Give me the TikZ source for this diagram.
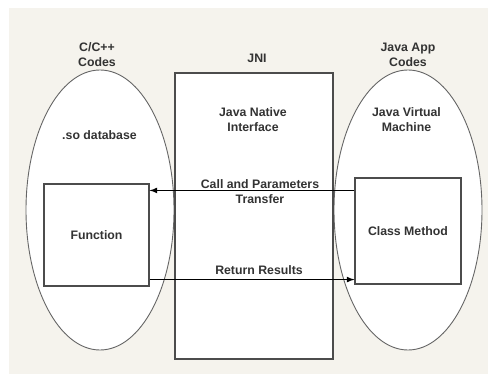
\documentclass[tikz,border=0pt]{standalone}
\usepackage{fontspec}
\setmainfont{Liberation Sans}
\usetikzlibrary{arrows,shapes.geometric,calc}

\definecolor{paper}{RGB}{245,243,237}
\definecolor{ink}{RGB}{51,51,51}

\tikzset{
  label/.style={font=\fontsize{12.3}{15}\selectfont\bfseries, text=ink, align=center, inner sep=0pt},
  oval/.style={ellipse, draw=black!60, fill=white, line width=0.9pt,
    minimum width=148pt, minimum height=280pt, inner sep=0pt},
  block/.style={rectangle, draw=black!70, fill=white, line width=1.1pt, inner sep=0pt},
  flow/.style={-latex, line width=1.6pt, black}
}

\begin{document}
\begin{tikzpicture}[x=1pt,y=-1pt]
  % Page and backdrop
  \useasboundingbox (0,0) rectangle (488,374);
  \fill[paper] (9,8) rectangle (488,374);

  % Two sides and the bridge between them
  \node[oval] (native) at (100,210) {};
  \node[oval] (java) at (408,210) {};
  \node[block, minimum width=158pt, minimum height=286pt] (jni) at (254,216) {};

  % Boxes inside the ovals
  \node[block, label, minimum width=105pt, minimum height=102pt] (func) at (96.5,235) {Function};
  \node[block, label, minimum width=106pt, minimum height=106pt] (method) at (408,231) {Class Method};

  % Titles
  \node[label] (cpp) at (97,54.5) {C/C++\\Codes};
  \node[label] (jnititle) at (257,58) {JNI};
  \node[label] (javaapp) at (408,54.5) {Java App\\Codes};
  \node[label] (sodb) at (99.5,135) {.so database};
  \node[label] (jnidesc) at (253,119.5) {Java Native\\Interface};
  \node[label] (jvm) at (406.5,119.5) {Java Virtual\\Machine};

  % Calls across the interface
  \node[label] (calltext) at (260,192) {Call and Parameters\\Transfer};
  \node[label] (rettext) at (259,270) {Return Results};
  \coordinate (callin) at ([yshift=-13pt]method.north west);
  \coordinate (retout) at ([yshift=7pt]func.south east);
  \draw[flow] (callin) -- (func.east |- callin);
  \draw[flow] (retout) -- (method.west |- retout);
\end{tikzpicture}
\end{document}
